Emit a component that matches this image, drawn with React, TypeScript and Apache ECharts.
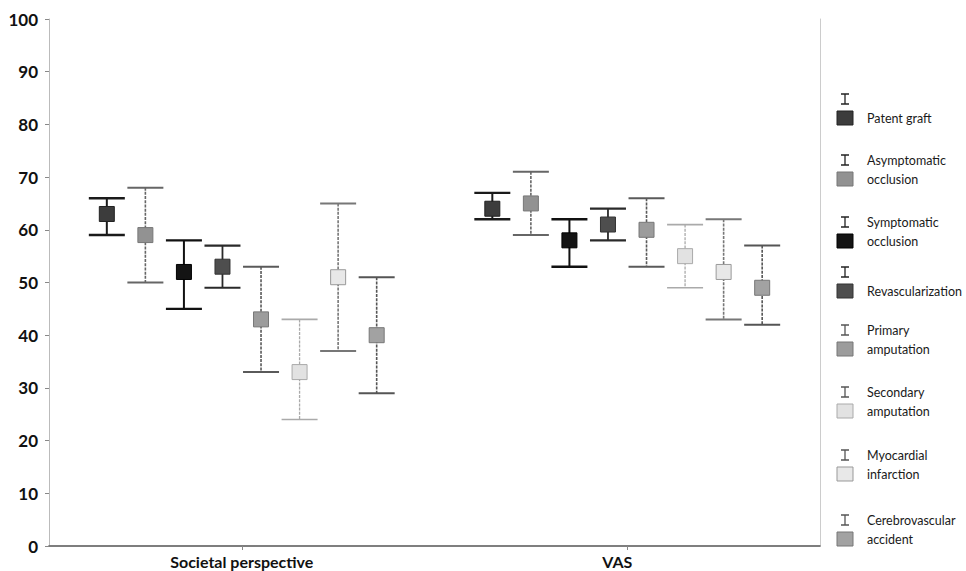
import React, { useEffect, useRef } from "react";
import * as echarts from "echarts";

const categories = ["Societal perspective", "VAS"];
const seriesNames = [
  "Patent graft",
  "Asymptomatic occlusion",
  "Symptomatic occlusion",
  "Revascularization",
  "Primary amputation",
  "Secondary amputation",
  "Myocardial infarction",
  "Cerebrovascular accident",
];
const legendLines = [
  ["Patent graft"],
  ["Asymptomatic", "occlusion"],
  ["Symptomatic", "occlusion"],
  ["Revascularization"],
  ["Primary", "amputation"],
  ["Secondary", "amputation"],
  ["Myocardial", "infarction"],
  ["Cerebrovascular", "accident"],
];
const societalMean = [63, 59, 52, 53, 43, 33, 51, 40];
const societalLow = [59, 50, 45, 49, 33, 24, 37, 29];
const societalHigh = [66, 68, 58, 57, 53, 43, 65, 51];
const vasMean = [64, 65, 58, 61, 60, 55, 52, 49];
const vasLow = [62, 59, 53, 58, 53, 49, 43, 42];
const vasHigh = [67, 71, 62, 64, 66, 61, 62, 57];
const yTicks = { min: 0, max: 100, interval: 10 };

const markerFill = ["#3c3c3c", "#929292", "#141414", "#4e4e4e", "#9c9c9c", "#e2e2e2", "#e8e8e8", "#a2a2a2"];
const markerBorder = ["#222", "#777", "#000", "#333", "#777", "#aaa", "#999", "#777"];
const lineColor = ["#1a1a1a", "#666", "#111", "#2a2a2a", "#5a5a5a", "#aaa", "#777", "#555"];
const lineWidth = [2, 1.6, 2, 1.8, 1.6, 1.3, 1.6, 1.6];
const dashed = [false, true, false, false, true, true, true, true];

export default function App() {
  const ref = useRef<HTMLDivElement>(null);
  useEffect(() => {
    if (!ref.current) return;
    const chart = echarts.init(ref.current, null, { renderer: "svg" });

    const series = seriesNames.map((name, i) => ({
      name,
      type: "custom",
      xAxisIndex: 0,
      yAxisIndex: 0,
      data: [
        [0, societalLow[i], societalHigh[i], societalMean[i]],
        [1, vasLow[i], vasHigh[i], vasMean[i]],
      ],
      encode: { x: 0, y: [1, 2, 3] },
      renderItem: (params: any, api: any) => {
        const cat = api.value(0);
        const low = api.coord([cat, api.value(1)]);
        const high = api.coord([cat, api.value(2)]);
        const mean = api.coord([cat, api.value(3)]);
        const band = api.size([1, 0])[0];
        const x = low[0] + (i - 3.5) * (band / 10);
        const hc = 18;
        const ms = 15;
        const ls = {
          stroke: lineColor[i],
          lineWidth: lineWidth[i],
          lineDash: dashed[i] ? [3, 1.2] : null,
        };
        const cs = { stroke: lineColor[i], lineWidth: lineWidth[i] + 0.4 };
        return {
          type: "group",
          children: [
            { type: "line", shape: { x1: x, y1: high[1], x2: x, y2: low[1] }, style: ls },
            { type: "line", shape: { x1: x - hc, y1: high[1], x2: x + hc, y2: high[1] }, style: cs },
            { type: "line", shape: { x1: x - hc, y1: low[1], x2: x + hc, y2: low[1] }, style: cs },
            {
              type: "rect",
              shape: { x: x - ms / 2, y: mean[1] - ms / 2, width: ms, height: ms },
              style: { fill: markerFill[i], stroke: markerBorder[i], lineWidth: 1 },
            },
          ],
        };
      },
    }));

    const glyphX = 845;
    const glyphY = [99, 160, 222, 272, 330, 392, 455, 520];
    const graphics: any[] = [];
    seriesNames.forEach((_, i) => {
      const gy = glyphY[i];
      const by = gy + 19;
      const c = i < 4 ? "#222" : "#555";
      graphics.push(
        { type: "line", shape: { x1: glyphX - 4, y1: gy - 5, x2: glyphX + 4, y2: gy - 5 }, style: { stroke: c, lineWidth: 1.5 } },
        { type: "line", shape: { x1: glyphX, y1: gy - 5, x2: glyphX, y2: gy + 5 }, style: { stroke: c, lineWidth: 1.3 } },
        { type: "line", shape: { x1: glyphX - 4, y1: gy + 5, x2: glyphX + 4, y2: gy + 5 }, style: { stroke: c, lineWidth: 1.5 } },
        {
          type: "rect",
          shape: { x: glyphX - 8, y: by - 7, width: 16, height: 14 },
          style: { fill: markerFill[i], stroke: markerBorder[i], lineWidth: 1 },
        }
      );
      const lines = legendLines[i];
      const ys = lines.length === 1 ? [by] : [gy, by];
      lines.forEach((t, k) => {
        graphics.push({
          type: "text",
          x: 867,
          y: ys[k],
          style: {
            text: t,
            fill: "#1a1a1a",
            font: "12.5px Lato",
            textVerticalAlign: "middle",
            verticalAlign: "middle",
          },
        });
      });
    });

    chart.setOption({
      animation: false,
      backgroundColor: "#fff",
      grid: { left: 49, right: 146, top: 19, bottom: 25, containLabel: false },
      xAxis: [
        {
          type: "category",
          data: [
            { value: categories[0] },
            { value: categories[1], textStyle: { padding: [0, 20, 0, 0] } },
          ],
          position: "bottom",
          axisLine: { show: true, lineStyle: { color: "#bbb", width: 1.5 } },
          axisTick: { show: true, alignWithLabel: true, length: 4, lineStyle: { color: "#888" } },
          axisLabel: { interval: 0, margin: 7, color: "#111", fontSize: 16, fontWeight: "bold", fontFamily: "Lato" },
        },
        {
          type: "category",
          data: categories,
          position: "top",
          axisLine: { show: true, lineStyle: { color: "#666", width: 1.5 } },
          axisTick: { show: false },
          axisLabel: { show: false },
        },
      ],
      yAxis: [
        {
          type: "value",
          min: yTicks.min,
          max: yTicks.max,
          interval: yTicks.interval,
          axisLine: { show: true, lineStyle: { color: "#bbb" } },
          axisTick: { show: true, length: 4, lineStyle: { color: "#888" } },
          splitLine: { show: false },
          axisLabel: { margin: 11, color: "#111", fontSize: 17, fontWeight: "bold", fontFamily: "Lato" },
        },
        {
          type: "value",
          position: "right",
          min: yTicks.min,
          max: yTicks.max,
          interval: yTicks.interval,
          axisLine: { show: true, lineStyle: { color: "#ccc" } },
          axisTick: { show: false },
          splitLine: { show: false },
          axisLabel: { show: false },
        },
      ],
      series,
      graphic: graphics,
    });
    return () => chart.dispose();
  }, []);
  return (
    <div
      ref={ref}
      style={{ position: "fixed", left: 0, top: 0, width: 966, height: 571, background: "#fff" }}
    />
  );
}
